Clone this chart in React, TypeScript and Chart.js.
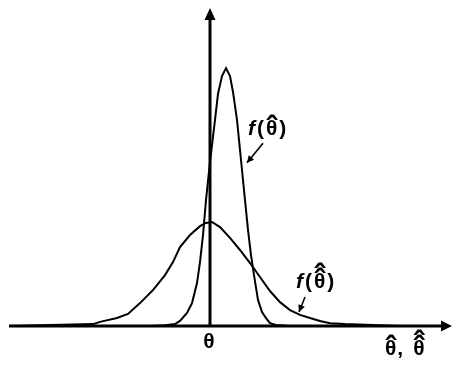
import React, { useEffect, useRef } from "react";
import { Chart, registerables } from "chart.js";

Chart.register(...registerables);

// Sharper estimator density f(θ̂): x position relative to θ, height as density
const narrowX = [-3.0, -2.25, -1.75, -1.5, -1.15, -0.9, -0.65, -0.5, -0.35, -0.2, 0, 0.25, 0.4, 0.6, 0.8, 1.0, 1.15, 1.35, 1.55, 1.75, 1.9, 2.05, 2.2, 2.4, 2.6, 2.8, 3.0, 3.3, 4.0];
const narrowY = [0, 0.002, 0.006, 0.016, 0.041, 0.072, 0.135, 0.201, 0.286, 0.396, 0.516, 0.648, 0.73, 0.786, 0.811, 0.786, 0.736, 0.648, 0.522, 0.396, 0.302, 0.223, 0.16, 0.082, 0.044, 0.025, 0.009, 0.003, 0];

// Wider estimator density f(θ̂̂)
const wideX = [-10, -8, -5.85, -5.5, -4.65, -4.1, -3.5, -2.85, -2.25, -1.85, -1.5, -1.0, -0.5, -0.2, 0.1, 0.5, 1.0, 1.5, 2.0, 2.5, 3.0, 3.5, 4.0, 4.5, 5.0, 5.5, 6.0, 6.75, 8.15, 9.5];
const wideY = [0, 0.003, 0.006, 0.013, 0.025, 0.038, 0.072, 0.113, 0.16, 0.201, 0.248, 0.286, 0.314, 0.324, 0.327, 0.311, 0.277, 0.239, 0.198, 0.154, 0.11, 0.075, 0.05, 0.035, 0.025, 0.016, 0.009, 0.006, 0.003, 0];

const X_MIN = -10;
const X_MAX = 12.1;
const Y_MAX = 1;

const THETA = "\u03B8";
const CIRC = "\u02C6";

const FONT = "'Liberation Sans', Arial, sans-serif";
const SIZE = 21;
const HAT_SIZE = 31;
const GAP = 2;

function arrowHead(ctx: CanvasRenderingContext2D, tx: number, ty: number, fx: number, fy: number, len: number, half: number) {
  const a = Math.atan2(ty - fy, tx - fx);
  ctx.beginPath();
  ctx.moveTo(tx, ty);
  ctx.lineTo(tx - len * Math.cos(a) + half * Math.sin(a), ty - len * Math.sin(a) - half * Math.cos(a));
  ctx.lineTo(tx - len * Math.cos(a) - half * Math.sin(a), ty - len * Math.sin(a) + half * Math.cos(a));
  ctx.closePath();
  ctx.fill();
}

// Draws θ (alphabetic baseline at y) with circumflexes stacked above; returns its width
function hatTheta(ctx: CanvasRenderingContext2D, x: number, y: number, hats: number): number {
  ctx.font = `bold ${SIZE}px ${FONT}`;
  ctx.textAlign = "left";
  const w = ctx.measureText(THETA).width;
  ctx.fillText(THETA, x, y);
  ctx.font = `bold ${HAT_SIZE}px ${FONT}`;
  ctx.textAlign = "center";
  for (let i = 0; i < hats; i++) {
    ctx.fillText(CIRC, x + w / 2, y + 3 - i * 5);
  }
  ctx.textAlign = "left";
  ctx.font = `bold ${SIZE}px ${FONT}`;
  return w;
}

const axesPlugin = {
  id: "arrowAxes",
  beforeDatasetsDraw(chart: any) {
    const { ctx, scales } = chart;
    const xs = scales.x;
    const ys = scales.y;
    const x0 = xs.getPixelForValue(0);
    const y0 = ys.getPixelForValue(0);
    ctx.save();
    ctx.strokeStyle = "#000";
    ctx.fillStyle = "#000";
    ctx.lineWidth = 3;
    ctx.beginPath();
    ctx.moveTo(xs.left - 1, y0);
    ctx.lineTo(xs.right - 8, y0);
    ctx.stroke();
    arrowHead(ctx, xs.right, y0, xs.left, y0, 11, 5.5);
    ctx.beginPath();
    ctx.moveTo(x0, y0);
    ctx.lineTo(x0, ys.top + 10);
    ctx.stroke();
    arrowHead(ctx, x0, ys.top, x0, y0, 12, 5.5);
    ctx.restore();
  },
  afterDraw(chart: any) {
    const { ctx, scales } = chart;
    const xs = scales.x;
    const ys = scales.y;
    const px = (v: number) => xs.getPixelForValue(v);
    const py = (v: number) => ys.getPixelForValue(v);
    ctx.save();
    ctx.fillStyle = "#000";
    ctx.strokeStyle = "#000";
    ctx.textBaseline = "alphabetic";

    // θ under the vertical axis
    ctx.font = `bold ${SIZE}px ${FONT}`;
    ctx.textAlign = "center";
    ctx.fillText(THETA, px(0) - 1, py(0) + 22);

    // horizontal axis title: θ̂, θ̂̂
    {
      let x = px(8.75);
      const y = py(0) + 29;
      x += hatTheta(ctx, x, y, 1) + 1;
      ctx.fillText(",", x, y);
      x += ctx.measureText(",").width + 10;
      hatTheta(ctx, x, y, 2);
    }

    const fLabel = (x: number, y: number, hats: number) => {
      let cx = px(x);
      const cy = py(y);
      ctx.font = `italic bold ${SIZE}px ${FONT}`;
      ctx.textAlign = "left";
      ctx.fillText("f", cx, cy);
      cx += ctx.measureText("f").width + GAP;
      ctx.font = `bold ${SIZE}px ${FONT}`;
      ctx.fillText("(", cx, cy);
      cx += ctx.measureText("(").width + GAP;
      cx += hatTheta(ctx, cx, cy, hats) + GAP;
      ctx.fillText(")", cx, cy);
    };
    fLabel(1.9, 0.6, 1);
    fLabel(4.3, 0.119, 2);

    const pointer = (x1: number, y1: number, x2: number, y2: number) => {
      ctx.lineWidth = 1.6;
      ctx.beginPath();
      ctx.moveTo(px(x1), py(y1));
      ctx.lineTo(px(x2), py(y2));
      ctx.stroke();
      arrowHead(ctx, px(x2), py(y2), px(x1), py(y1), 7, 3.5);
    };
    pointer(2.65, 0.575, 1.85, 0.513);
    pointer(4.75, 0.091, 4.45, 0.044);
    ctx.restore();
  },
};

export default function App() {
  const ref = useRef<HTMLCanvasElement>(null);

  useEffect(() => {
    document.body.style.margin = "0";
    const canvas = ref.current;
    if (!canvas) return;
    const chart = new Chart(canvas, {
      type: "line",
      data: {
        datasets: [
          {
            data: narrowX.map((x, i) => ({ x, y: narrowY[i] })),
            borderColor: "#000",
            borderWidth: 2,
            pointRadius: 0,
            tension: 0,
            clip: false as any,
          },
          {
            data: wideX.map((x, i) => ({ x, y: wideY[i] })),
            borderColor: "#000",
            borderWidth: 2,
            pointRadius: 0,
            tension: 0,
            clip: false as any,
          },
        ],
      },
      options: {
        responsive: false,
        animation: false,
        layout: { padding: { left: 10, right: 1, top: 8, bottom: 41 } },
        plugins: { legend: { display: false }, tooltip: { enabled: false } },
        scales: {
          x: { type: "linear", min: X_MIN, max: X_MAX, display: false },
          y: { type: "linear", min: 0, max: Y_MAX, display: false },
        },
      },
      plugins: [axesPlugin],
    });
    return () => chart.destroy();
  }, []);

  return (
    <div style={{ position: "absolute", left: 0, top: 0, width: 453, height: 367, background: "#fff" }}>
      <canvas ref={ref} width={453} height={367} />
    </div>
  );
}
